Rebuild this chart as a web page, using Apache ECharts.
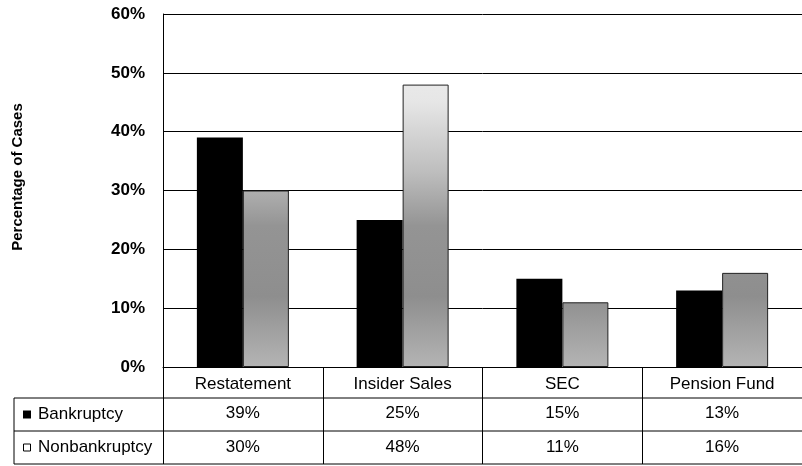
<!DOCTYPE html>
<html>
<head>
<meta charset="utf-8">
<script src="https://cdn.jsdelivr.net/npm/echarts@6/dist/echarts.min.js"></script>
<style>
html,body{margin:0;padding:0;background:#fff;}
#chart{width:802px;height:466px;}
</style>
</head>
<body>
<div id="chart"></div>
<script>
const categories = ['Restatement', 'Insider Sales', 'SEC', 'Pension Fund'];
const seriesNames = ['Bankruptcy', 'Nonbankruptcy'];
const bankruptcy = [39, 25, 15, 13];
const nonbankruptcy = [30, 48, 11, 16];
const yAxisTitle = 'Percentage of Cases';

const FONT = 'Liberation Sans, Arial, sans-serif';
const GRID_TOP = 14, GRID_BOTTOM_Y = 367, GRID_LEFT = 163, TABLE_LEFT = 14;
const ROW1_Y = 398, ROW2_Y = 431, TABLE_BOTTOM = 464;

const chart = echarts.init(document.getElementById('chart'));

const grayFill = new echarts.graphic.LinearGradient(0, GRID_TOP, 0, GRID_BOTTOM_Y, [
  {offset: 0, color: '#f4f4f4'},
  {offset: 0.25, color: '#e6e6e6'},
  {offset: 0.45, color: '#bdbdbd'},
  {offset: 0.6, color: '#949494'},
  {offset: 0.8, color: '#8e8e8e'},
  {offset: 1, color: '#b4b4b4'}
], true);

const labelStyle = {color: '#000', fontFamily: FONT, fontSize: 17, margin: 9};

const option = {
  animation: false,
  backgroundColor: '#fff',
  grid: {left: GRID_LEFT, right: -6, top: GRID_TOP, bottom: 466 - GRID_BOTTOM_Y, containLabel: false},
  yAxis: {
    type: 'value', min: 0, max: 60, interval: 10,
    axisLine: {show: true, lineStyle: {color: '#000', width: 1}},
    axisTick: {show: false},
    splitLine: {show: true, lineStyle: {color: '#000', width: 1}},
    axisLabel: {formatter: '{value}%', color: '#000', fontFamily: FONT, fontSize: 17, fontWeight: 'bold', margin: 18}
  },
  xAxis: [
    {
      type: 'category', data: categories, position: 'bottom',
      axisLine: {show: true, lineStyle: {color: '#000', width: 1}},
      axisTick: {show: true, length: TABLE_BOTTOM - GRID_BOTTOM_Y, lineStyle: {color: '#000', width: 1}},
      axisLabel: labelStyle
    },
    {
      type: 'category', data: bankruptcy.map(v => v + '%'), position: 'bottom', offset: 29,
      axisLine: {show: false}, axisTick: {show: false}, axisLabel: labelStyle
    },
    {
      type: 'category', data: nonbankruptcy.map(v => v + '%'), position: 'bottom', offset: 63,
      axisLine: {show: false}, axisTick: {show: false}, axisLabel: labelStyle
    }
  ],
  series: [
    {
      name: seriesNames[0], type: 'bar', xAxisIndex: 0, data: bankruptcy,
      barWidth: 46, barGap: '0%',
      itemStyle: {color: '#000'}
    },
    {
      name: seriesNames[1], type: 'bar', xAxisIndex: 0, data: nonbankruptcy,
      barWidth: 46, barGap: '0%',
      itemStyle: {color: grayFill, borderColor: '#222', borderWidth: 1}
    }
  ],
  graphic: [
    {type: 'text', x: 17.5, y: 177, rotation: Math.PI / 2,
      style: {text: yAxisTitle, fill: '#000', font: 'bold 15px ' + FONT, align: 'center', verticalAlign: 'middle'}},
    {type: 'line', shape: {x1: TABLE_LEFT, y1: ROW1_Y, x2: 802, y2: ROW1_Y}, style: {stroke: '#000', lineWidth: 1}},
    {type: 'line', shape: {x1: TABLE_LEFT, y1: ROW2_Y, x2: 802, y2: ROW2_Y}, style: {stroke: '#000', lineWidth: 1}},
    {type: 'line', shape: {x1: TABLE_LEFT, y1: TABLE_BOTTOM, x2: 802, y2: TABLE_BOTTOM}, style: {stroke: '#000', lineWidth: 1}},
    {type: 'line', shape: {x1: TABLE_LEFT, y1: ROW1_Y, x2: TABLE_LEFT, y2: TABLE_BOTTOM}, style: {stroke: '#000', lineWidth: 1}},
    {type: 'rect', shape: {x: 23, y: (ROW1_Y + ROW2_Y) / 2 - 4, width: 8, height: 8}, style: {fill: '#000'}},
    {type: 'text', x: 38, y: (ROW1_Y + ROW2_Y) / 2,
      style: {text: seriesNames[0], fill: '#000', font: '17px ' + FONT, verticalAlign: 'middle'}},
    {type: 'rect', shape: {x: 23.5, y: (ROW2_Y + TABLE_BOTTOM) / 2 - 3.5, width: 7, height: 7}, style: {fill: '#fff', stroke: '#000', lineWidth: 1}},
    {type: 'text', x: 38, y: (ROW2_Y + TABLE_BOTTOM) / 2,
      style: {text: seriesNames[1], fill: '#000', font: '17px ' + FONT, verticalAlign: 'middle'}}
  ]
};
chart.setOption(option);
</script>
</body>
</html>
